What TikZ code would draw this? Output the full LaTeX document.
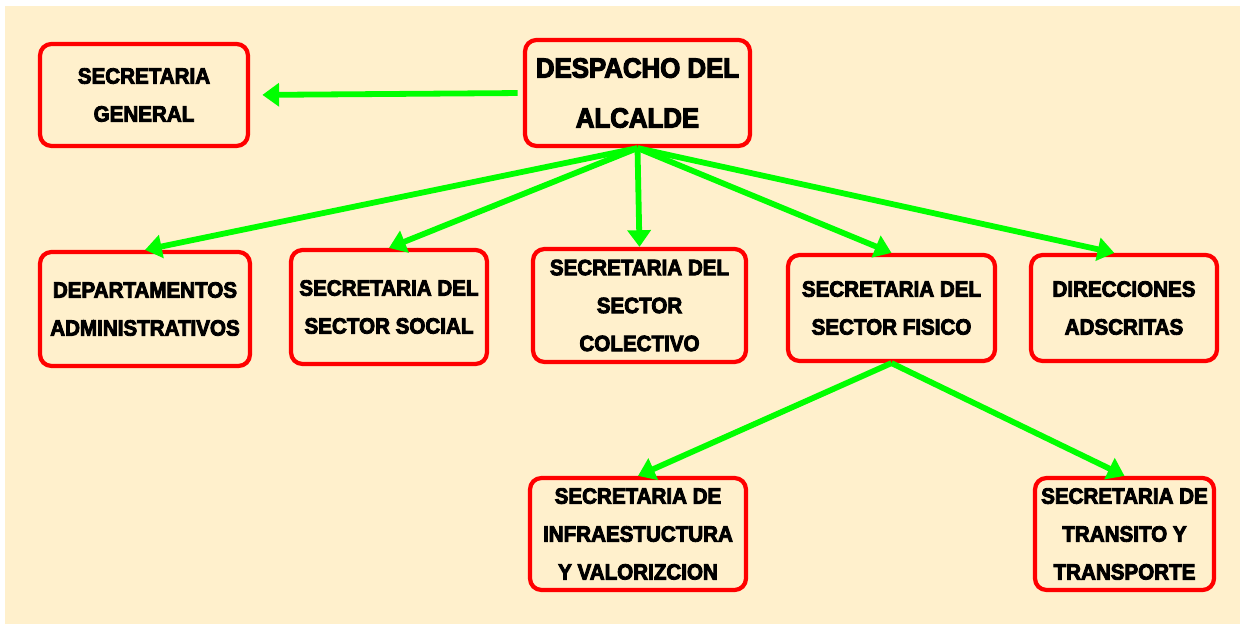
\documentclass[tikz,border=0pt]{standalone}
\usepackage{fontspec}
\setmainfont{Liberation Sans}
\newfontfamily\orgfont[FakeStretch=0.93, BoldFeatures={FakeBold=4}]{Liberation Sans}
\usetikzlibrary{arrows.meta}
\definecolor{bgcream}{RGB}{255,240,204}
\definecolor{boxred}{RGB}{255,0,0}
\definecolor{arrowgreen}{RGB}{0,255,0}

\begin{document}
\begin{tikzpicture}[
                                x=0.02cm,
                                y=-0.02cm,
                                -{Triangle[length=9.5pt,width=13pt]},
                                line width=3.3pt
                            ]
                            \tikzset{
                                unit/.style = {draw=boxred, line width=2.4pt, rounded corners=6.5pt,
                                    align=center, inner sep=0pt,
                                    font=\orgfont\bfseries\fontsize{12.6}{21.6}\selectfont},
                                head/.style = {unit, font=\orgfont\bfseries\fontsize{15.8}{28.4}\selectfont},
                                link/.style = {draw=arrowgreen}
                            }

                            % Background
                            \useasboundingbox (0,0) rectangle (1240,624);
                            \fill[bgcream] (5,6) rectangle (1240,624);

                            % Top row
                            \node[head, minimum width=4.5cm, minimum height=2.12cm] (DA) at (637.5,93) {DESPACHO DEL\\ALCALDE};
                            \node[unit, minimum width=4.16cm, minimum height=2.04cm] (SG) at (144,95) {SECRETARIA\\GENERAL};
                            \draw[link, shorten <=3pt, shorten >=7pt] (DA.west) -- (SG.east);

                            % Middle row
                            \node[unit, minimum width=4.2cm, minimum height=2.28cm] (DEP) at (145,309) {DEPARTAMENTOS\\ADMINISTRATIVOS};
                            \node[unit, minimum width=3.92cm, minimum height=2.28cm] (SOC) at (389,307) {SECRETARIA DEL\\SECTOR SOCIAL};
                            \node[unit, minimum width=4.26cm, minimum height=2.26cm] (COL) at (639.5,305.5) {SECRETARIA DEL\\SECTOR\\COLECTIVO};
                            \node[unit, minimum width=4.14cm, minimum height=2.12cm] (FIS) at (891.5,308) {SECRETARIA DEL\\SECTOR FISICO};
                            \node[unit, minimum width=3.72cm, minimum height=2.12cm] (DIR) at (1124,308) {DIRECCIONES\\ADSCRITAS};
                            \foreach \n in {DEP,SOC,COL,FIS} {
                                \draw[link] (DA.south) -- (\n.north);
                            }
                            \draw[link] (DA.south) -- (DIR.100);

                            % Bottom row
                            \node[unit, minimum width=4.32cm, minimum height=2.24cm] (INF) at (638,534) {SECRETARIA DE\\INFRAESTUCTURA\\Y VALORIZCION};
                            \node[unit, minimum width=3.58cm, minimum height=2.24cm] (TRA) at (1124.5,534) {SECRETARIA DE\\TRANSITO Y\\TRANSPORTE};
                            \draw[link] (FIS.south) -- (INF.north);
                            \draw[link] (FIS.south) -- (TRA.north);

                        \end{tikzpicture}
\end{document}
